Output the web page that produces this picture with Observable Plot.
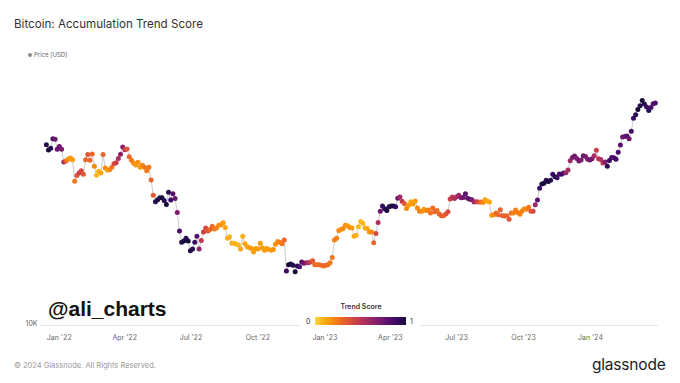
<!DOCTYPE html>
<html>
<head>
<meta charset="utf-8">
<script src="https://cdn.jsdelivr.net/npm/d3@7"></script>
<script src="https://cdn.jsdelivr.net/npm/@observablehq/plot@0.6"></script>
<style>
  html, body { margin: 0; padding: 0; background: #fff; }
  #wrap { position: relative; width: 680px; height: 383px; overflow: hidden; font-family: Inter, "Noto Sans", sans-serif; }
  #title { position: absolute; left: 14px; top: 17px; font-size: 11.6px; color: #333; }
  #plegend { position: absolute; left: 28px; top: 51px; font-size: 6px; color: #666; }
  #plegend span.dot { display: inline-block; width: 4px; height: 4px; border-radius: 50%; background: #888; margin-right: 2px; vertical-align: 0px; }
  #chart { position: absolute; left: 0; top: 55px; }
  #watermark { position: absolute; left: 48px; top: 297px; font-family: "Liberation Sans", Arial, sans-serif; font-weight: bold; font-size: 21px; color: #111; }
  #clegend { position: absolute; left: 300px; top: 302px; width: 120px; height: 26px; background: #fff; font-size: 7px; color: #333; }
  #clegend .t { position: absolute; left: 0; width: 122px; top: 0; text-align: center; font-weight: 600; }
  #clegend .bar { position: absolute; left: 15px; top: 15px; width: 91px; height: 8px; }
  #clegend .l0 { position: absolute; left: 6px; top: 15px; }
  #clegend .l1 { position: absolute; left: 110px; top: 15px; }
  #footer { position: absolute; left: 14px; top: 361px; font-size: 7.5px; color: #999; }
  #logo { position: absolute; left: 592px; top: 355px; font-size: 15.5px; color: #222; letter-spacing: -0.2px; }
</style>
</head>
<body>
<div id="wrap">
  <div id="title">Bitcoin: Accumulation Trend Score</div>
  <div id="plegend"><span class="dot"></span>Price [USD]</div>
  <div id="chart"></div>
  <div id="watermark">@ali_charts</div>
  <div id="clegend"><div class="t">Trend Score</div><div class="l0">0</div><div class="bar" id="bar"></div><div class="l1">1</div></div>
  <div id="footer">© 2024 Glassnode. All Rights Reserved.</div>
  <div id="logo">glassnode</div>
</div>
<script>
// Samples every 3 days starting 2021-12-14 (price in thousands USD)
const startDate = "2021-12-14";
const stepDays = 3;
const priceK = [
  48.4, 46.2, 46.9, 51.0, 50.8, 46.5,                               // Dec 21
  47.7, 46.5, 41.6, 41.9, 42.6, 43.1, 42.4, 35.1, 36.9, 37.7, 38.5, // Jan 22
  37.3, 42.4, 44.4, 42.2, 44.6, 40.0, 37.0, 38.3, 37.7,             // Feb 22
  44.4, 39.4, 38.7, 38.8, 39.7, 40.9, 41.3, 42.9, 44.5, 47.5,       // Mar 22
  46.3, 46.6, 43.5, 42.2, 41.1, 40.5, 41.5, 39.7, 40.4, 39.7,       // Apr 22
  38.5, 39.7, 35.5, 31.0, 29.3, 29.8, 30.3, 30.3, 29.6, 28.6, 31.8, // May 22
  29.7, 31.4, 30.1, 26.6, 22.6, 20.5, 20.7, 21.2, 20.7, 19.0,       // Jun 22
  19.3, 20.5, 21.6, 19.3, 20.8, 22.4, 23.2, 22.6, 22.9, 23.6,       // Jul 22
  23.0, 23.2, 23.8, 23.9, 24.3, 23.3, 21.2, 21.5, 20.3, 20.3,       // Aug 22
  20.1, 20.0, 19.3, 21.6, 20.2, 19.7, 19.5, 19.4, 18.8, 19.4,       // Sep 22
  19.3, 20.3, 19.5, 19.1, 19.4, 19.2, 19.1, 19.2, 20.1, 20.6, 20.5, // Oct 22
  20.2, 20.9, 15.9, 16.8, 16.9, 16.7, 15.8, 16.6, 16.5, 17.2,       // Nov 22
  17.0, 17.1, 17.1, 17.2, 17.4, 16.8, 16.8, 16.8, 16.7, 16.6,       // Dec 22
  16.7, 16.8, 17.1, 17.9, 20.9, 21.2, 22.7, 22.9, 23.1, 23.8,       // Jan 23
  23.7, 23.3, 23.2, 21.6, 21.8, 23.5, 24.6, 24.2, 23.2, 23.1,       // Feb 23
  22.4, 22.4, 20.4, 22.1, 24.4, 26.9, 28.2, 27.5, 27.1, 28.0,       // Mar 23
  28.2, 28.2, 28.0, 30.2, 30.5, 29.4, 28.8, 27.6, 28.4, 29.3,       // Apr 23
  28.7, 29.5, 27.7, 26.9, 26.9, 27.4, 27.1, 27.2, 26.5, 27.7,       // May 23
  26.8, 27.1, 26.3, 25.9, 25.9, 26.3, 26.8, 30.0, 30.5, 30.1,       // Jun 23
  30.6, 31.0, 30.3, 30.4, 31.4, 30.2, 29.9, 29.8, 29.2, 29.3, 29.2, // Jul 23
  29.2, 29.1, 29.8, 29.4, 29.2, 26.0, 26.1, 26.5, 26.1, 27.3,       // Aug 23
  25.9, 25.8, 25.9, 25.1, 26.5, 26.5, 27.2, 26.6, 26.2, 27.0,       // Sep 23
  27.5, 27.4, 27.9, 26.9, 26.9, 28.5, 29.7, 33.0, 34.2, 34.5,       // Oct 23
  35.4, 35.0, 35.4, 37.3, 36.5, 36.2, 37.4, 37.3, 37.7, 37.8,       // Nov 23
  38.7, 42.0, 43.3, 43.8, 42.9, 41.9, 42.3, 43.9, 43.6, 42.6, 42.3, // Dec 23
  42.8, 43.9, 46.1, 42.8, 42.5, 41.2, 41.6, 40.0, 42.1, 43.3,       // Jan 24
  43.2, 42.6, 45.3, 48.3, 51.8, 52.1, 52.3, 51.0, 54.5, 61.2,       // Feb 24
  63.1, 66.1, 68.3, 71.5, 69.4, 67.6, 65.5, 67.2, 69.5, 69.9        // Mar 24
];
const trendScore = [
  0.95, 1.0, 0.95, 0.8, 0.75, 0.75,
  0.75, 0.7, 0.6, 0.3, 0.2, 0.15, 0.15, 0.25, 0.35, 0.45, 0.4,
  0.35, 0.3, 0.35, 0.3, 0.3, 0.2, 0.08, 0.1, 0.12,
  0.3, 0.2, 0.15, 0.2, 0.25, 0.4, 0.45, 0.55, 0.65, 0.65,
  0.5, 0.35, 0.3, 0.25, 0.18, 0.15, 0.18, 0.15, 0.2, 0.25,
  0.25, 0.25, 0.3, 0.35, 0.95, 1.0, 0.95, 1.0, 0.95, 1.0, 0.95,
  0.9, 0.8, 0.75, 0.7, 0.85, 0.95, 1.0, 0.95, 1.0, 0.95,
  0.95, 0.9, 0.8, 0.65, 0.5, 0.45, 0.4, 0.35, 0.3, 0.28,
  0.25, 0.22, 0.2, 0.18, 0.15, 0.12, 0.1, 0.08, 0.1, 0.08,
  0.1, 0.08, 0.12, 0.1, 0.12, 0.12, 0.15, 0.15, 0.14, 0.15,
  0.15, 0.15, 0.14, 0.15, 0.15, 0.14, 0.15, 0.17, 0.17, 0.2, 0.22,
  0.25, 0.3, 0.9, 1.0, 1.0, 0.95, 1.0, 0.95, 0.85, 0.8,
  0.75, 0.65, 0.55, 0.45, 0.35, 0.3, 0.3, 0.28, 0.3, 0.28,
  0.3, 0.28, 0.25, 0.25, 0.22, 0.22, 0.2, 0.18, 0.2, 0.18,
  0.15, 0.18, 0.15, 0.12, 0.1, 0.08, 0.07, 0.08, 0.1, 0.12,
  0.15, 0.2, 0.3, 0.4, 0.55, 0.75, 0.9, 0.95, 1.0, 0.95,
  0.95, 1.0, 0.9, 0.75, 0.6, 0.5, 0.35, 0.2, 0.15, 0.12,
  0.15, 0.15, 0.2, 0.22, 0.2, 0.15, 0.2, 0.22, 0.28, 0.28,
  0.3, 0.28, 0.3, 0.35, 0.3, 0.35, 0.4, 0.45, 0.5, 0.55,
  0.55, 0.6, 0.65, 0.75, 0.8, 0.75, 0.8, 0.7, 0.6, 0.5, 0.4,
  0.3, 0.2, 0.15, 0.12, 0.12, 0.15, 0.2, 0.28, 0.3, 0.32,
  0.35, 0.3, 0.3, 0.35, 0.28, 0.22, 0.22, 0.25, 0.22, 0.22,
  0.2, 0.22, 0.25, 0.35, 0.4, 0.6, 0.8, 0.9, 0.95, 1.0,
  0.95, 1.0, 0.95, 0.9, 0.95, 0.9, 0.85, 0.9, 0.85, 0.6,
  0.55, 0.6, 0.7, 0.75, 0.7, 0.75, 0.7, 0.75, 0.7, 0.7, 0.75,
  0.7, 0.55, 0.45, 0.5, 0.55, 0.5, 0.7, 0.95, 0.9, 0.85,
  0.85, 0.9, 0.85, 0.8, 0.75, 0.75, 0.8, 0.75, 0.85, 0.9,
  0.95, 1.0, 0.95, 1.0, 0.95, 0.9, 0.95, 0.85, 0.8, 0.85
];
const xTickDates = ["2022-01-01","2022-04-01","2022-07-01","2022-10-01","2023-01-01","2023-04-01","2023-07-01","2023-10-01","2024-01-01"];
const xTickLabels = ["Jan '22","Apr '22","Jul '22","Oct '22","Jan '23","Apr '23","Jul '23","Oct '23","Jan '24"];
const yTicks = [10000];
const yTickLabels = ["10K"];

const n = Math.min(priceK.length, trendScore.length);
const t0 = new Date(startDate + "T00:00:00Z");
const data = d3.range(n).map(i => ({
  date: d3.utcDay.offset(t0, i * stepDays),
  price: priceK[i] * 1000,
  score: trendScore[i]
}));
const xTicks = xTickDates.map(s => new Date(s + "T00:00:00Z"));
const interp = t => d3.interpolateInferno(0.9 - 0.8 * t);

const chart = Plot.plot({
  width: 680,
  height: 300,
  marginLeft: 40,
  marginRight: 23,
  marginTop: 7,
  marginBottom: 30,
  style: { fontFamily: "Inter, 'Noto Sans', sans-serif", fontSize: "7px", color: "#666", background: "transparent" },
  x: { type: "utc", domain: [new Date("2021-12-06T00:00:00Z"), new Date("2024-04-02T00:00:00Z")] },
  y: { type: "log", domain: [9825, 100000], axis: null },
  color: { type: "linear", domain: [0, 1], interpolate: interp },
  marks: [
    Plot.frame({ anchor: "bottom", stroke: "#e6e6e6" }),
    Plot.axisX({ ticks: xTicks, tickSize: 0, tickPadding: 10, tickFormat: (d, i) => xTickLabels[i], label: null }),
    Plot.text(yTicks, { y: d => d, frameAnchor: "left", text: (d, i) => yTickLabels[i], textAnchor: "end", dx: -3, fill: "#666", fontSize: 7 }),
    Plot.line(data, { x: "date", y: "price", stroke: "#bdbdbd", strokeWidth: 0.8 }),
    Plot.dot(data, { x: "date", y: "price", fill: "score", r: 2.5, stroke: "none" })
  ]
});
document.getElementById("chart").appendChild(chart);

// colour legend gradient from the same interpolator
const stops = d3.range(0, 1.0001, 0.1).map(t => `${interp(t)} ${Math.round(t * 100)}%`).join(",");
document.getElementById("bar").style.background = `linear-gradient(to right, ${stops})`;
</script>
</body>
</html>
